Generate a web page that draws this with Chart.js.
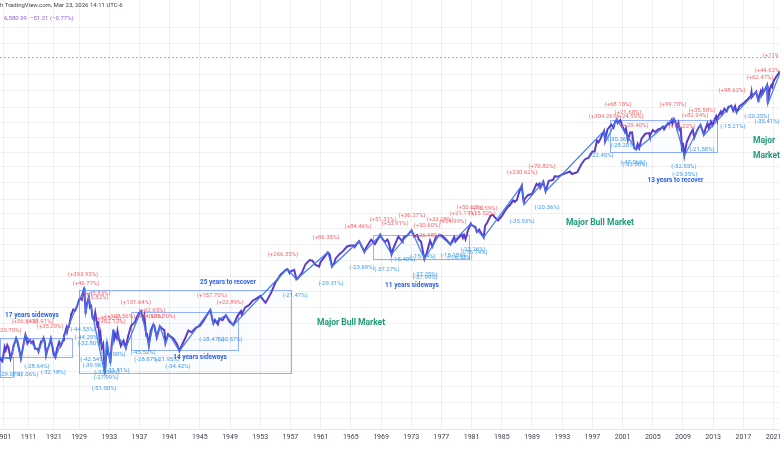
<!DOCTYPE html>
<html><head><meta charset="utf-8">
<script src="https://cdn.jsdelivr.net/npm/chart.js@4"></script>
<style>html,body{margin:0;padding:0;background:#fff}canvas{display:block}</style>
</head><body>
<canvas id="c" width="780" height="470"></canvas>
<script>
// ---------- data ----------
const tickYears = [1901,1911,1921,1929,1933,1937,1941,1945,1949,1953,1957,1961,1965,1969,1973,1977,1981,1985,1989,1993,1997,2001,2005,2009,2013,2017,2021];
const tickLabels = ["1901","1911","1921","1929","1933","1937","1941","1945","1949","1953","1957","1961","1965","1969","1973","1977","1981","1985","1989","1993","1997","2001","2005","2009","2013","2017","2021"];

const dates = [
1899.6,1900.0,1900.5,1901.0,1901.45,1901.9,1902.5,1903.0,1903.8,1904.5,1905.0,1905.6,1906.0,1906.6,1907.3,1907.9,1908.5,1909.0,1909.7,1910.2,1910.5,1911.0,1911.5,1912.0,1912.8,1913.5,1914.5,1914.9,1915.4,1915.9,1916.4,1916.9,1917.4,1917.9,1918.5,1919.0,1919.8,1920.3,1920.9,1921.6,1922.2,1922.7,1923.1,1923.7,1924.2,1924.7,1925.0,1925.5,1926.0,1926.25,1926.7,1927.0,1927.5,1927.9,
1928.0,1928.25,1928.5,1928.75,1928.9,1929.0,1929.2,1929.4,1929.55,1929.67,1929.72,1929.8,1929.87,1930.0,1930.3,1930.45,1930.6,1930.8,1931.0,1931.15,1931.45,1931.5,1931.75,1931.85,1932.0,1932.2,1932.42,1932.55,1932.7,1932.85,1933.0,1933.15,1933.3,1933.55,1933.65,1933.8,1934.0,1934.1,1934.3,1934.55,1934.9,1935.2,1935.5,1935.9,1936.3,1936.45,1936.6,1936.9,1937.2,1937.5,1937.65,1937.9,1938.0,1938.25,1938.5,1938.85,1939.0,1939.3,1939.7,1940.0,1940.3,1940.45,1940.8,1941.0,1941.5,1942.0,1942.3,1942.6,1943.0,1943.5,1943.9,1944.5,1945.0,1945.5,1946.0,1946.4,1946.7,1946.8,1947.0,1947.4,1947.6,1948.0,1948.45,1948.9,1949.45,1950.0,1950.45,1950.55,1951.0,1951.5,1952.0,1952.5,1953.0,1953.7,1954.0,1954.5,1955.0,1955.5,1955.7,1956.0,1956.3,1956.6,1956.9,1957.0,1957.5,1957.8,1958.0,1958.5,1959.0,1959.55,1959.9,1960.3,1960.8,1961.0,1961.5,1961.95,1962.2,1962.5,1962.8,1963.0,1963.5,1964.0,1964.5,1965.0,1965.4,1965.5,1966.0,1966.1,1966.8,1967.0,1967.7,1968.2,1968.9,1969.0,1969.5,1969.85,1970.0,1970.4,1970.6,1971.0,1971.3,1971.87,1972.0,1972.5,1973.05,1973.4,1973.8,1974.0,1974.3,1974.75,1974.9,1975.0,1975.5,1975.8,1976.0,1976.25,1976.7,1977.0,1977.5,1977.9,1978.2,1978.7,1978.85,1979.0,1979.7,1979.85,1980.0,1980.2,1980.5,1980.9,1981.0,1981.5,1981.7,1982.0,1982.6,1982.8,1983.0,1983.5,1983.8,1984.0,1984.5,1985.0,1985.5,1985.9,1986.0,1986.5,1986.7,1987.0,1987.3,1987.65,1987.83,1987.93,1988.0,1988.5,1989.0,1989.6,1989.8,1990.0,1990.1,1990.5,1990.8,1991.0,1991.2,1991.8,1992.0,1992.5,1993.0,1993.5,1994.0,1994.3,1995.0,1995.5,1996.0,1996.5,1997.0,1997.3,1997.6,1997.8,1998.0,1998.55,1998.67,1999.0,1999.5,1999.8,2000.0,2000.2,2000.35,2000.7,2001.0,2001.3,2001.45,2001.7,2002.0,2002.25,2002.55,2002.8,2003.0,2003.2,2003.5,2004.0,2004.5,2004.6,2005.0,2005.3,2005.8,2006.0,2006.35,2006.5,2007.0,2007.15,2007.5,2007.6,2007.8,2008.0,2008.2,2008.4,2008.55,2008.7,2008.88,2009.0,2009.18,2009.5,2010.0,2010.3,2010.5,2010.75,2011.0,2011.32,2011.75,2012.0,2012.25,2012.42,2012.7,2012.9,2013.0,2013.4,2013.5,2014.0,2014.1,2014.5,2014.8,2015.0,2015.4,2015.65,2015.9,2016.1,2016.5,2017.0,2017.5,2018.0,2018.07,2018.12,2018.7,2018.98,2019.0,2019.3,2019.4,2019.55,2019.6,2020.0,2020.13,2020.22,2020.5,2020.7,2020.82,2021.0,2021.5,2021.7,2021.85,2022.0];
const closes = [
6.4,6.1,5.9,6.9,8.2,7.6,8.6,8.1,6.3,7.2,8.5,9.3,10.0,9.2,7.6,6.3,7.6,8.9,10.8,9.6,8.9,9.4,9.6,9.0,9.4,7.9,7.9,7.4,8.3,9.3,9.4,10.1,9.2,6.8,7.8,8.3,9.9,8.5,6.9,6.45,7.8,8.6,9.2,8.4,8.9,9.6,10.6,11.5,12.7,11.7,13.1,13.4,15.0,17.5,
17.6,19.5,19.0,21.0,23.0,24.3,25.1,24.3,29.0,31.7,31.86,22.9,17.66,21.45,25.9,20.5,21.0,16.0,15.3,18.1,13.0,14.8,9.7,10.9,8.1,8.8,4.4,6.1,9.3,6.9,6.9,5.66,8.3,12.2,9.8,11.0,10.1,11.8,9.8,8.4,9.5,8.06,10.5,13.4,14.3,14.8,16.0,17.7,18.68,15.5,17.0,10.6,11.3,8.5,12.0,13.8,13.2,10.2,13.2,12.5,12.1,9.0,11.0,10.6,10.0,8.7,7.5,8.5,9.8,12.0,11.5,12.8,13.3,15.0,17.4,19.25,15.0,14.1,15.3,13.8,15.8,15.2,17.1,14.8,13.6,16.8,18.7,17.3,20.4,21.5,23.8,25.0,26.6,22.7,24.8,29.2,36.0,41.0,43.5,45.5,48.0,49.4,45.0,46.7,48.5,39.0,40.0,45.0,55.2,60.7,59.9,54.5,52.3,58.1,65.0,72.6,69.0,52.3,56.5,63.1,69.5,75.0,83.0,84.8,85.0,82.0,92.4,94.0,73.2,80.3,97.0,87.7,108.4,103.9,91.8,97.0,92.1,69.3,78.0,92.2,104.0,92.5,102.1,107.0,120.2,104.0,108.4,97.6,93.0,62.3,67.0,68.6,95.2,83.0,90.2,102.8,107.5,107.5,100.0,92.0,86.9,103.0,93.0,96.1,109.0,101.0,107.9,98.2,119.0,140.5,135.8,130.0,116.2,122.6,102.4,134.0,140.6,168.0,172.6,164.9,150.7,167.2,191.9,211.3,211.3,240.0,232.0,242.2,290.0,336.8,251.8,223.9,247.1,272.0,277.7,351.0,340.0,353.4,322.0,369.0,295.5,330.2,375.0,385.0,417.0,415.0,435.7,450.0,466.0,440.0,459.3,545.0,616.0,640.0,741.0,740.0,950.0,915.0,970.0,1187.0,957.0,1229.0,1370.0,1280.0,1469.0,1527.0,1420.0,1520.0,1320.0,1160.0,1250.0,966.0,1148.0,1150.0,800.0,777.0,880.0,801.0,990.0,1112.0,1130.0,1063.0,1212.0,1160.0,1240.0,1248.0,1310.0,1230.0,1418.0,1375.0,1530.0,1400.0,1565.0,1468.0,1273.0,1425.0,1215.0,1250.0,752.0,903.0,677.0,920.0,1115.0,1217.0,1023.0,1140.0,1258.0,1364.0,1099.0,1258.0,1410.0,1278.0,1465.0,1353.0,1426.0,1669.0,1573.0,1848.0,1741.0,1980.0,1862.0,2059.0,2131.0,1893.0,2100.0,1829.0,2100.0,2239.0,2430.0,2674.0,2873.0,2581.0,2931.0,2351.0,2507.0,2946.0,2744.0,3025.0,2840.0,3231.0,3386.0,2237.0,3100.0,3400.0,3270.0,3756.0,4300.0,4500.0,4700.0,4766.0];

// zigzag swing pivots (blue line)
const pivotDates  = [1899.6,1903.8,1906.0,1907.9,1909.7,1914.9,1916.9,1917.9,1919.8,1921.6,1929.72,1929.87,1930.3,1932.42,1932.7,1933.15,1933.55,1935.2,1937.2,1938.25,1938.85,1939.3,1939.7,1940.45,1940.9,1942.3,1946.4,1946.8,1948.45,1949.45,1956.6,1957.8,1961.95,1962.5,1966.1,1966.8,1968.9,1970.4,1973.05,1974.75,1976.7,1978.2,1980.9,1982.6,1987.65,1987.93,1990.5,1990.8,1998.55,1998.75,2000.2,2002.8,2007.8,2009.18,2011.32,2011.76,2015.4,2016.1,2018.7,2018.98,2020.13,2020.22,2022.0];
const pivotValues = [6.4,6.3,10.0,6.3,10.8,7.4,10.2,6.8,9.9,6.45,31.9,17.7,25.9,4.4,9.3,5.7,12.2,8.06,18.7,8.5,13.8,10.2,13.2,9.0,11.0,7.5,19.3,14.1,17.1,13.6,49.7,38.98,72.6,52.3,94.0,73.2,108.4,69.3,120.2,62.3,107.8,86.9,140.5,102.4,337.0,216.5,369.8,294.5,1190.6,923.3,1552.9,768.6,1576.0,666.8,1370.6,1074.8,2134.7,1810.0,2940.9,2346.6,3393.5,2191.9,4818.6];

const gridLevels = [12904,8930,4373,2998,2027,1448,1025,726,521,363,246,178,126,87.8,60.8,42,29.3,20.4,14.1,9.8,6.8,4.7,3.3,2.28,1.58];
const lastPrice = 6580.99;

// annotation texts: [year, value, text, kind]  kind: g=gain, l=loss, t=title, m=major
const notes = [
[1902.8,12.1,"(+20.70%)","g"],[1909.5,14.6,"(+56.64%)","g"],[1915.5,14.6,"(+38.91%)","g"],[1919.5,13.3,"(+35.29%)","g"],
[1929.53,44.0,"(+393.95%)","g"],[1929.93,35.8,"(+46.77%)","g"],[1931.38,28.4,"(+45.83%)","g"],[1931.12,25.4,"(+25.82%)","g"],
[1932.84,15.9,"(+40.92%)","g"],[1934.43,16.7,"(+108.56%)","g"],[1933.37,14.6,"(+62.12%)","g"],
[1936.55,22.6,"(+131.64%)","g"],[1938.67,19.2,"(+62.65%)","g"],[1938.4,16.4,"(+34.50%)","g"],[1940.0,16.4,"(+26.70%)","g"],
[1946.6,26.6,"(+157.70%)","g"],[1949.0,23.1,"(+23.89%)","g"],[1956.02,68.3,"(+266.35%)","g"],[1961.7,101,"(+86.35%)","g"],
[1965.95,130,"(+84.46%)","g"],[1969.26,153,"(+51.31%)","g"],[1970.85,142,"(+53.91%)","g"],[1973.1,171,"(+36.27%)","g"],
[1975.09,108,"(+26.98%)","g"],[1975.09,136,"(+50.60%)","g"],[1976.81,153,"(+33.28%)","g"],[1978.54,149,"(+24.99%)","g"],
[1980.79,206,"(+50.65%)","g"],[1979.86,179,"(+21.17%)","g"],[1982.38,179,"(+15.52%)","g"],[1982.64,197,"(+16.59%)","g"],
[1987.68,461,"(+230.62%)","g"],[1990.32,518,"(+70.82%)","g"],[1998.54,1674,"(+304.26%)","g"],[2000.39,2207,"(+68.18%)","g"],
[2001.72,1835,"(+21.68%)","g"],[2001.98,1674,"(+24.59%)","g"],[2002.64,1361,"(+29.40%)","g"],[2007.68,2207,"(+99.78%)","g"],
[2011.52,1922,"(+35.58%)","g"],[2010.59,1713,"(+82.94%)","g"],[2008.87,1330,"(+16.22%)","g"],[2015.49,2978,"(+98.62%)","g"],
[2019.2,4110,"(+62.47%)","g"],[2020.26,4829,"(+44.62%)","g"],[2021.58,6821,"(+119.84%)","g"],
[1903.6,4.40,"(-29.07%)","l"],[1909.9,4.40,"(-31.06%)","l"],[1914.3,5.18,"(-28.64%)","l"],[1920.7,4.61,"(-32.18%)","l"],
[1929.53,12.4,"(-44.53%)","l"],[1930.06,10.3,"(-44.29%)","l"],[1930.46,8.79,"(-32.80%)","l"],[1930.85,6.22,"(-42.54%)","l"],
[1931.12,5.30,"(-39.96%)","l"],[1933.5,6.83,"(-36.90%)","l"],[1932.7,4.61,"(-33.04%)","l"],[1932.58,4.10,"(-27.99%)","l"],
[1934.03,4.83,"(-31.81%)","l"],[1932.31,3.12,"(-51.00%)","l"],[1937.48,7.31,"(-45.52%)","l"],[1938.0,6.22,"(-28.87%)","l"],
[1940.66,6.22,"(-21.95%)","l"],[1942.11,5.18,"(-34.42%)","l"],[1946.6,9.86,"(-28.47%)","l"],[1949.0,9.86,"(-20.57%)","l"],
[1957.61,27.1,"(-21.47%)","l"],[1962.38,35.8,"(-29.31%)","l"],[1966.48,50.6,"(-23.69%)","l"],[1969.79,48.3,"(-37.27%)","l"],
[1971.91,62.2,"(-15.40%)","l"],[1974.56,65.2,"(-15.54%)","l"],[1974.83,44.0,"(-37.25%)","l"],[1974.83,41.1,"(-37.99%)","l"],
[1978.54,66.7,"(-15.15%)","l"],[1979.46,63.7,"(-16.53%)","l"],[1981.19,78.3,"(-22.26%)","l"],[1981.45,71.5,"(-16.74%)","l"],
[1987.68,149,"(-35.93%)","l"],[1990.99,206,"(-20.36%)","l"],[1998.14,667,"(-22.45%)","l"],[2000.66,986,"(-30.36%)","l"],
[2001.06,840,"(-28.20%)","l"],[2002.38,568,"(-47.06%)","l"],[2002.64,542,"(-33.68%)","l"],[2009.13,518,"(-52.55%)","l"],
[2009.26,440,"(-29.35%)","l"],[2011.52,779,"(-21.58%)","l"],[2015.62,1300,"(-15.21%)","l"],[2018.8,1637,"(-20.25%)","l"],
[2020.13,1492,"(-35.41%)","l"],
[1912.3,17.1,"17 years sideways","t"],[1948.73,36.6,"25 years to recover","t"],[1945.03,6.52,"14 years sideways","t"],
[1973.1,34.2,"11 years sideways","t"],[2008.0,383,"13 years to recover","t"],
[1965.03,14.2,"Major Bull Market","m"],[1998.0,142,"Major Bull Market","m"]
];
// right-edge wrapped label
const edgeNote = [2018.27, 945, 664, "Major", "Market"];

// boxes: [startYear, topValue, endYear, bottomValue]
const boxes = [
[1899.6,10.1,1928.07,6.52],[1899.6,6.52,1904.8,4.10],[1929.0,30.5,1957.08,4.51],
[1935.9,18.3,1950.06,7.65],[1967.94,108,1980.66,62.2],[1999.33,1527,2013.5,731]
];

// ---------- helpers ----------
function toAxis(year){ return year >= 1928 ? year : 1928 - (1928 - year) / 3; }
const viewStart = 1899.6, viewEnd = 2021.85;

const priceSeries = dates.map((d,i)=>({x:toAxis(d), y:closes[i]}));
const zigSeries = pivotDates.map((d,i)=>({x:toAxis(d), y:pivotValues[i]}));

const FONT = "Roboto, 'Liberation Sans', sans-serif";

const overlay = {
  id:'overlay',
  beforeDatasetsDraw(chart){
    const {ctx, chartArea:a, scales:{x,y}} = chart;
    ctx.save();
    ctx.beginPath(); ctx.rect(a.left,a.top,a.right-a.left,a.bottom-a.top); ctx.clip();
    boxes.forEach(b=>{
      const x1=Math.round(x.getPixelForValue(toAxis(b[0])))+0.5, x2=Math.round(x.getPixelForValue(toAxis(b[2])))+0.5;
      const y1=Math.round(y.getPixelForValue(b[1]))+0.5, y2=Math.round(y.getPixelForValue(b[3]))+0.5;
      ctx.fillStyle='rgba(41,98,255,0.012)';
      ctx.fillRect(x1,y1,x2-x1,y2-y1);
      ctx.strokeStyle='rgba(41,98,255,0.5)'; ctx.lineWidth=1;
      ctx.strokeRect(x1,y1,x2-x1,y2-y1);
    });
    // last price dashed line
    const py = Math.round(y.getPixelForValue(lastPrice))+0.5;
    ctx.strokeStyle='rgba(126,87,194,0.55)'; ctx.setLineDash([2,2]); ctx.lineWidth=1;
    ctx.beginPath(); ctx.moveTo(a.left,py); ctx.lineTo(a.right,py); ctx.stroke();
    ctx.setLineDash([]);
    ctx.restore();
  },
  afterDatasetsDraw(chart){
    const {ctx, chartArea:a, scales:{x,y}} = chart;
    ctx.save();
    ctx.beginPath(); ctx.rect(a.left,a.top,a.right-a.left,a.bottom-a.top); ctx.clip();
    ctx.textAlign='center'; ctx.textBaseline='middle';
    notes.forEach(n=>{
      const px=x.getPixelForValue(toAxis(n[0])), py=y.getPixelForValue(n[1]);
      if(n[3]==='g'){ ctx.fillStyle='#f7676d'; ctx.font='6px '+FONT; }
      else if(n[3]==='l'){ ctx.fillStyle='#3d9af0'; ctx.font='6px '+FONT; }
      else if(n[3]==='t'){ ctx.fillStyle='#2f62e8'; ctx.font='bold 6.5px '+FONT; }
      else { ctx.fillStyle='#1f9b78'; ctx.font='bold 8.5px '+FONT; }
      ctx.fillText(n[2],px,py);
    });
    ctx.textAlign='left'; ctx.fillStyle='#1f9b78'; ctx.font='bold 8.5px '+FONT;
    const ex=x.getPixelForValue(toAxis(edgeNote[0]));
    ctx.fillText(edgeNote[3],ex,y.getPixelForValue(edgeNote[1]));
    ctx.fillText(edgeNote[4],ex,y.getPixelForValue(edgeNote[2]));
    ctx.restore();
    // header
    ctx.save();
    ctx.textAlign='left'; ctx.textBaseline='middle';
    ctx.font='6px '+FONT; ctx.fillStyle='#3b3f4a';
    ctx.fillText("h TradingView.com, Mar 23, 2026 14:11 UTC-6",0,5);
    ctx.fillStyle='#8a63d2';
    ctx.fillText("6,580.99  \u221251.21 (\u22120.77%)",4,18);
    ctx.restore();
  }
};

new Chart(document.getElementById('c'),{
  type:'line',
  data:{datasets:[
    {data:zigSeries, borderColor:'#3f7cf4', borderWidth:1.2, pointRadius:0, tension:0},
    {data:priceSeries, borderColor:'#5a3cc8', borderWidth:2, pointRadius:0, tension:0}
  ]},
  options:{
    responsive:false, animation:false, devicePixelRatio:1,
    layout:{padding:0, autoPadding:false},
    plugins:{legend:{display:false}, tooltip:{enabled:false}},
    scales:{
      x:{type:'linear', min:toAxis(viewStart), max:toAxis(viewEnd),
        afterBuildTicks:s=>{ s.ticks = tickYears.map(v=>({value:toAxis(v)})); },
        afterFit:s=>{ s.height=41; s.paddingLeft=0; s.paddingRight=0; },
        ticks:{autoSkip:false, maxRotation:0, padding:4, color:'#3b3f4a', font:{size:7, family:FONT},
          callback:(v,i)=>tickLabels[i]},
        grid:{color:'rgba(42,46,57,0.07)', drawTicks:false},
        border:{display:true, color:'#e3e5ea'}
      },
      y:{type:'logarithmic', min:1.2416, max:24202,
        afterBuildTicks:s=>{ s.ticks = gridLevels.map(v=>({value:v})); },
        afterFit:s=>{ s.width=0; },
        ticks:{display:false},
        grid:{color:'rgba(42,46,57,0.07)', drawTicks:false},
        border:{display:false}
      }
    }
  },
  plugins:[overlay]
});
</script>
</body></html>
